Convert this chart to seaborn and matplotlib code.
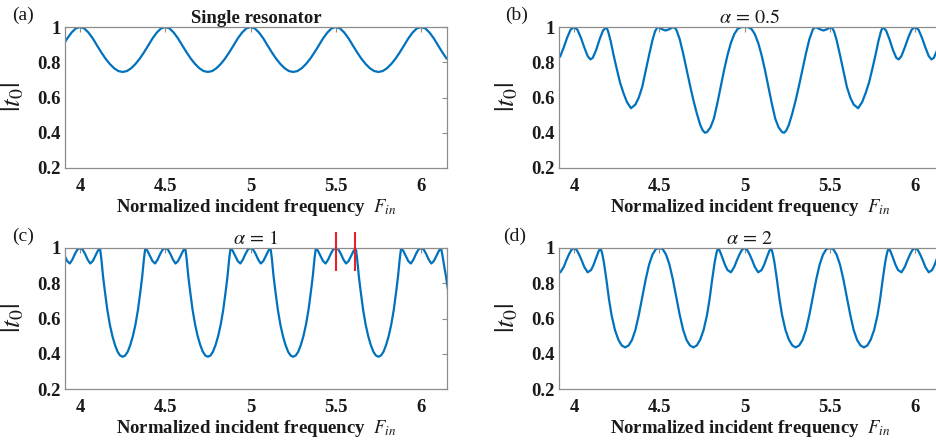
import matplotlib
matplotlib.use("Agg")
import matplotlib.pyplot as plt
import seaborn as sns
import pandas as pd

# ---------------- data ----------------
# (a) single resonator
F_a = [3.9, 3.925, 3.95, 3.975,
       4.0, 4.025, 4.05, 4.075, 4.1, 4.125, 4.15, 4.175, 4.2, 4.225, 4.25, 4.275, 4.3, 4.325, 4.35, 4.375, 4.4, 4.425, 4.45, 4.475,
       4.5, 4.525, 4.55, 4.575, 4.6, 4.625, 4.65, 4.675, 4.7, 4.725, 4.75, 4.775, 4.8, 4.825, 4.85, 4.875, 4.9, 4.925, 4.95, 4.975,
       5.0, 5.025, 5.05, 5.075, 5.1, 5.125, 5.15, 5.175, 5.2, 5.225, 5.25, 5.275, 5.3, 5.325, 5.35, 5.375, 5.4, 5.425, 5.45, 5.475,
       5.5, 5.525, 5.55, 5.575, 5.6, 5.625, 5.65, 5.675, 5.7, 5.725, 5.75, 5.775, 5.8, 5.825, 5.85, 5.875, 5.9, 5.925, 5.95, 5.975,
       6.0, 6.025, 6.05, 6.075, 6.1, 6.125, 6.15]
t_a = [0.895, 0.935, 0.968, 0.992,
       1.0, 0.992, 0.968, 0.935, 0.895, 0.856, 0.82, 0.79, 0.766, 0.75, 0.745, 0.75, 0.766, 0.79, 0.82, 0.856, 0.895, 0.935, 0.968, 0.992,
       1.0, 0.992, 0.968, 0.935, 0.895, 0.856, 0.82, 0.79, 0.766, 0.75, 0.745, 0.75, 0.766, 0.79, 0.82, 0.856, 0.895, 0.935, 0.968, 0.992,
       1.0, 0.992, 0.968, 0.935, 0.895, 0.856, 0.82, 0.79, 0.766, 0.75, 0.745, 0.75, 0.766, 0.79, 0.82, 0.856, 0.895, 0.935, 0.968, 0.992,
       1.0, 0.992, 0.968, 0.935, 0.895, 0.856, 0.82, 0.79, 0.766, 0.75, 0.745, 0.75, 0.766, 0.79, 0.82, 0.856, 0.895, 0.935, 0.968, 0.992,
       1.0, 0.992, 0.968, 0.935, 0.895, 0.856, 0.82]

# (b) alpha = 0.5
F_b = [3.89, 3.904, 3.92, 3.94, 3.96, 3.98,
       4.0, 4.02, 4.04, 4.06, 4.08, 4.096, 4.11, 4.13, 4.15, 4.17, 4.19, 4.20, 4.215, 4.23, 4.25, 4.27, 4.29, 4.31, 4.334, 4.36,
       4.38, 4.40, 4.42, 4.44, 4.46, 4.475, 4.49, 4.50, 4.515, 4.537, 4.56, 4.575, 4.585, 4.60, 4.62, 4.64, 4.66, 4.68, 4.70,
       4.72, 4.74, 4.755, 4.768, 4.78, 4.80, 4.82, 4.84, 4.86, 4.88, 4.90, 4.92, 4.94, 4.96, 4.98,
       5.0, 5.02, 5.04, 5.06, 5.08, 5.10, 5.12, 5.14, 5.16, 5.18, 5.20, 5.22, 5.232, 5.245, 5.26, 5.28, 5.30, 5.32, 5.34, 5.36,
       5.38, 5.40, 5.415, 5.425, 5.44, 5.463, 5.485, 5.50, 5.51, 5.525, 5.54, 5.56, 5.58, 5.60, 5.62, 5.64, 5.666, 5.69, 5.71,
       5.73, 5.75, 5.77, 5.785, 5.80, 5.81, 5.83, 5.85, 5.87, 5.89, 5.904, 5.92, 5.94, 5.96, 5.98,
       6.0, 6.02, 6.04, 6.06, 6.08, 6.096, 6.11, 6.13, 6.15, 6.17]
t_b = [0.825, 0.816, 0.835, 0.885, 0.94, 0.985,
       1.0, 0.985, 0.94, 0.885, 0.835, 0.816, 0.825, 0.87, 0.93, 0.98, 1.0, 0.975, 0.92, 0.85, 0.765, 0.685, 0.625, 0.575, 0.539, 0.56,
       0.60, 0.66, 0.75, 0.84, 0.925, 0.975, 1.0, 0.997, 0.988, 0.98, 0.988, 0.996, 1.0, 0.985, 0.93, 0.85, 0.76, 0.67, 0.585,
       0.51, 0.445, 0.413, 0.40, 0.404, 0.43, 0.48, 0.565, 0.66, 0.755, 0.84, 0.91, 0.96, 0.99, 0.999,
       1.0, 0.999, 0.99, 0.96, 0.91, 0.84, 0.755, 0.66, 0.565, 0.48, 0.43, 0.404, 0.40, 0.413, 0.445, 0.51, 0.585, 0.67, 0.76, 0.85,
       0.93, 0.985, 1.0, 0.996, 0.988, 0.98, 0.988, 0.997, 1.0, 0.975, 0.925, 0.84, 0.75, 0.66, 0.60, 0.56, 0.539, 0.575, 0.625,
       0.685, 0.765, 0.85, 0.92, 0.975, 1.0, 0.98, 0.93, 0.87, 0.825, 0.816, 0.835, 0.885, 0.94, 0.985,
       1.0, 0.985, 0.94, 0.885, 0.835, 0.816, 0.825, 0.87, 0.93, 0.98]

# (c) alpha = 1
F_c = [3.895, 3.91, 3.925, 3.94, 3.955, 3.97, 3.985,
       4.0, 4.015, 4.03, 4.045, 4.06, 4.075, 4.09, 4.105, 4.117, 4.125, 4.135, 4.145, 4.16, 4.175, 4.19, 4.205, 4.22, 4.235,
       4.25, 4.265, 4.28, 4.295, 4.31, 4.325, 4.34, 4.355, 4.365, 4.375, 4.383, 4.395, 4.41, 4.425, 4.44, 4.455, 4.47, 4.485,
       4.5, 4.515, 4.53, 4.545, 4.56, 4.575, 4.59, 4.605, 4.617, 4.625, 4.635, 4.645, 4.66, 4.675, 4.69, 4.705, 4.72, 4.735,
       4.75, 4.765, 4.78, 4.795, 4.81, 4.825, 4.84, 4.855, 4.865, 4.875, 4.883, 4.895, 4.91, 4.925, 4.94, 4.955, 4.97, 4.985,
       5.0, 5.015, 5.03, 5.045, 5.06, 5.075, 5.09, 5.105, 5.117, 5.125, 5.135, 5.145, 5.16, 5.175, 5.19, 5.205, 5.22, 5.235,
       5.25, 5.265, 5.28, 5.295, 5.31, 5.325, 5.34, 5.355, 5.365, 5.375, 5.383, 5.395, 5.41, 5.425, 5.44, 5.455, 5.47, 5.485,
       5.5, 5.515, 5.53, 5.545, 5.56, 5.575, 5.59, 5.605, 5.617, 5.625, 5.635, 5.645, 5.66, 5.675, 5.69, 5.705, 5.72, 5.735,
       5.75, 5.765, 5.78, 5.795, 5.81, 5.825, 5.84, 5.855, 5.865, 5.875, 5.883, 5.895, 5.91, 5.925, 5.94, 5.955, 5.97, 5.985,
       6.0, 6.015, 6.03, 6.045, 6.06, 6.075, 6.09, 6.105, 6.117, 6.125, 6.135, 6.145, 6.16]
t_c = [0.985, 0.955, 0.926, 0.912, 0.934, 0.966, 0.992,
       1.0, 0.992, 0.966, 0.934, 0.912, 0.926, 0.955, 0.985, 1.0, 0.94, 0.84, 0.76, 0.65, 0.565, 0.50, 0.45, 0.412, 0.39,
       0.383, 0.39, 0.412, 0.45, 0.50, 0.565, 0.65, 0.76, 0.84, 0.94, 1.0, 0.985, 0.955, 0.926, 0.912, 0.934, 0.966, 0.992,
       1.0, 0.992, 0.966, 0.934, 0.912, 0.926, 0.955, 0.985, 1.0, 0.94, 0.84, 0.76, 0.65, 0.565, 0.50, 0.45, 0.412, 0.39,
       0.383, 0.39, 0.412, 0.45, 0.50, 0.565, 0.65, 0.76, 0.84, 0.94, 1.0, 0.985, 0.955, 0.926, 0.912, 0.934, 0.966, 0.992,
       1.0, 0.992, 0.966, 0.934, 0.912, 0.926, 0.955, 0.985, 1.0, 0.94, 0.84, 0.76, 0.65, 0.565, 0.50, 0.45, 0.412, 0.39,
       0.383, 0.39, 0.412, 0.45, 0.50, 0.565, 0.65, 0.76, 0.84, 0.94, 1.0, 0.985, 0.955, 0.926, 0.912, 0.934, 0.966, 0.992,
       1.0, 0.992, 0.966, 0.934, 0.912, 0.926, 0.955, 0.985, 1.0, 0.94, 0.84, 0.76, 0.65, 0.565, 0.50, 0.45, 0.412, 0.39,
       0.383, 0.39, 0.412, 0.45, 0.50, 0.565, 0.65, 0.76, 0.84, 0.94, 1.0, 0.985, 0.955, 0.926, 0.912, 0.934, 0.966, 0.992,
       1.0, 0.992, 0.966, 0.934, 0.912, 0.926, 0.955, 0.985, 1.0, 0.96, 0.90, 0.845, 0.75]

# (d) alpha = 2
F_d = [3.89, 3.90, 3.92, 3.94, 3.955, 3.97, 3.985,
       4.0, 4.015, 4.03, 4.045, 4.06, 4.08, 4.10, 4.115, 4.13, 4.145, 4.155, 4.165, 4.175, 4.19, 4.205, 4.22, 4.24, 4.26,
       4.28, 4.30, 4.32, 4.34, 4.36, 4.38, 4.40, 4.42, 4.44, 4.46, 4.48, 4.50, 4.52, 4.54, 4.56, 4.58, 4.60, 4.62, 4.64,
       4.66, 4.68, 4.70, 4.72, 4.74, 4.76, 4.78, 4.795, 4.81, 4.825, 4.835, 4.845, 4.855, 4.87, 4.885, 4.90, 4.92, 4.94,
       4.955, 4.97, 4.985,
       5.0, 5.015, 5.03, 5.045, 5.06, 5.08, 5.10, 5.115, 5.13, 5.145, 5.155, 5.165, 5.175, 5.19, 5.205, 5.22, 5.24, 5.26,
       5.28, 5.30, 5.32, 5.34, 5.36, 5.38, 5.40, 5.42, 5.44, 5.46, 5.48, 5.50, 5.52, 5.54, 5.56, 5.58, 5.60, 5.62, 5.64,
       5.66, 5.68, 5.70, 5.72, 5.74, 5.76, 5.78, 5.795, 5.81, 5.825, 5.835, 5.845, 5.855, 5.87, 5.885, 5.90, 5.92, 5.94,
       5.955, 5.97, 5.985,
       6.0, 6.015, 6.03, 6.045, 6.06, 6.08, 6.10, 6.115, 6.13, 6.145, 6.155, 6.165]
t_d = [0.895, 0.875, 0.862, 0.893, 0.93, 0.963, 0.99,
       1.0, 0.99, 0.963, 0.93, 0.893, 0.862, 0.875, 0.905, 0.945, 0.983, 1.0, 0.97, 0.92, 0.82, 0.71, 0.62, 0.535, 0.48,
       0.447, 0.436, 0.447, 0.478, 0.535, 0.62, 0.72, 0.82, 0.905, 0.962, 0.994, 1.0, 0.994, 0.962, 0.905, 0.82, 0.72, 0.62, 0.535,
       0.478, 0.447, 0.436, 0.447, 0.48, 0.535, 0.62, 0.71, 0.82, 0.92, 0.97, 1.0, 0.983, 0.945, 0.905, 0.875, 0.862, 0.893,
       0.93, 0.963, 0.99,
       1.0, 0.99, 0.963, 0.93, 0.893, 0.862, 0.875, 0.905, 0.945, 0.983, 1.0, 0.97, 0.92, 0.82, 0.71, 0.62, 0.535, 0.48,
       0.447, 0.436, 0.447, 0.478, 0.535, 0.62, 0.72, 0.82, 0.905, 0.962, 0.994, 1.0, 0.994, 0.962, 0.905, 0.82, 0.72, 0.62, 0.535,
       0.478, 0.447, 0.436, 0.447, 0.48, 0.535, 0.62, 0.71, 0.82, 0.92, 0.97, 1.0, 0.983, 0.945, 0.905, 0.875, 0.862, 0.893,
       0.93, 0.963, 0.99,
       1.0, 0.99, 0.963, 0.93, 0.893, 0.862, 0.875, 0.905, 0.945, 0.983, 1.0, 0.97]

# red markers in panel (c)
RED_F = [5.503, 5.614]
RED_SPAN = [0.87, 1.09]

TITLES = ["Single resonator", r"$\alpha\,=\,0.5$", r"$\alpha\,=\,1$", r"$\alpha\,=\,2$"]
LETTERS = ["(a)", "(b)", "(c)", "(d)"]
XTICKS = [4, 4.5, 5, 5.5, 6]
XTICK_LABELS = ["4", "4.5", "5", "5.5", "6"]
YTICKS = [0.2, 0.4, 0.6, 0.8, 1.0]
YTICK_LABELS = ["0.2", "0.4", "0.6", "0.8", "1"]
XLIM = (3.912, 6.152)
YLIM = (0.2, 1.0)
XLABEL = r"Normalized incident frequency  $F_{in}$"
YLABEL = r"$|t_0|$"

# ---------------- style ----------------
sns.set_theme(style="white")
plt.rcParams["font.family"] = ["Liberation Serif", "DejaVu Serif"]
plt.rcParams["mathtext.fontset"] = "stix"

BLUE = "#0072BD"
SPINE = "#8c8c8c"
TXT = "#1a1a1a"

W, H = 936, 443
fig = plt.figure(figsize=(W / 100, H / 100), dpi=100)


def px_rect(l, t, r, b):
    return [l / W, 1 - b / H, (r - l) / W, (b - t) / H]


RECTS = [(65, 27, 447, 168), (559, 27, 941, 168), (65, 248, 447, 389), (559, 248, 941, 389)]
LETTER_POS = [(12, 15), (505, 15), (12, 236), (503, 236)]
SERIES = [(F_a, t_a), (F_b, t_b), (F_c, t_c), (F_d, t_d)]

for i, ((F, t), rect) in enumerate(zip(SERIES, RECTS)):
    ax = fig.add_axes(px_rect(*rect))
    df = pd.DataFrame({"F": F, "t": t})
    sns.lineplot(data=df, x="F", y="t", ax=ax, color=BLUE, linewidth=1.6,
                 estimator=None, sort=False)
    ax.set_xlim(*XLIM)
    ax.set_ylim(*YLIM)
    ax.set_xticks(XTICKS)
    ax.set_xticklabels(XTICK_LABELS)
    ax.set_yticks(YTICKS)
    ax.set_yticklabels(YTICK_LABELS)
    for lab in ax.get_xticklabels() + ax.get_yticklabels():
        lab.set_fontweight("bold")
        lab.set_color(TXT)
    ax.tick_params(axis="both", direction="in", length=3.5, width=0.8, color=SPINE,
                   top=True, right=True, labelsize=13.5)
    ax.tick_params(axis="x", pad=7)
    ax.tick_params(axis="y", pad=3)
    for s in ax.spines.values():
        s.set_color(SPINE)
        s.set_linewidth(0.9)
    ax.set_xlabel(XLABEL, fontsize=13.5, fontweight="bold", color=TXT)
    ax.xaxis.set_label_coords(0.5, -0.205)
    ax.set_ylabel(YLABEL, fontsize=20, color=TXT)
    ax.yaxis.set_label_coords(-0.1, 0.5)
    if i == 0:
        ax.set_title(TITLES[i], fontsize=13.5, fontweight="bold", color=TXT, pad=3)
    else:
        ax.set_title(TITLES[i], fontsize=14.5, color=TXT, pad=3)
    if i == 2:
        ax.vlines(RED_F, RED_SPAN[0], RED_SPAN[1], colors="#e8202a", linewidth=1.5,
                  clip_on=False, zorder=5)
    fig.text(LETTER_POS[i][0] / W, 1 - LETTER_POS[i][1] / H, LETTERS[i], fontsize=14,
             color=TXT, ha="left", va="center")

fig.savefig("out.png", dpi=100)
